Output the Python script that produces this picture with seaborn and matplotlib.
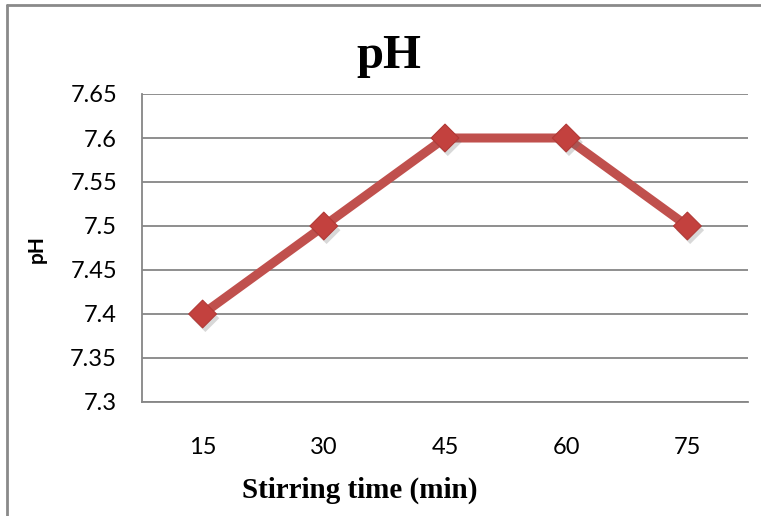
import matplotlib
matplotlib.use("Agg")
import matplotlib.pyplot as plt
import matplotlib.patheffects as pe
from matplotlib.lines import Line2D
import pandas as pd
import seaborn as sns

# Data
stirring_time = ["15", "30", "45", "60", "75"]
ph_values = [7.4, 7.5, 7.6, 7.6, 7.5]
y_ticks = [7.3, 7.35, 7.4, 7.45, 7.5, 7.55, 7.6, 7.65]
y_tick_labels = ["7.3", "7.35", "7.4", "7.45", "7.5", "7.55", "7.6", "7.65"]

df = pd.DataFrame({"time": stirring_time, "ph": ph_values})

sns.set_theme(style="white")
W, H = 761, 516
fig = plt.figure(figsize=(W / 100, H / 100), dpi=100)
ax = fig.add_axes([142 / W, 1 - 402 / H, (748 - 142) / W, (402 - 94) / H])

red = "#C0504D"
# connecting line
sns.lineplot(data=df, x="time", y="ph", ax=ax, color=red, linewidth=6.5,
             sort=False, zorder=3)
# diamond markers with a soft drop shadow
sns.scatterplot(data=df, x="time", y="ph", ax=ax, marker="D", s=200,
                color="#C3413E", edgecolor="#B13936", linewidth=0.8, zorder=4,
                path_effects=[pe.SimplePatchShadow(offset=(2, -3), shadow_rgbFace="0.4", alpha=0.25),
                              pe.Normal()])

ax.set_xlim(-0.5, len(stirring_time) - 0.5)
ax.set_ylim(7.3, 7.65)
ax.set_yticks(y_ticks)
ax.set_yticklabels(y_tick_labels)
ax.grid(axis="y", color="#868686", linewidth=1.3)
ax.grid(axis="x", visible=False)
ax.set_axisbelow(True)
for side in ("top", "right"):
    ax.spines[side].set_visible(False)
for side in ("left", "bottom"):
    ax.spines[side].set_color("#868686")
    ax.spines[side].set_linewidth(1.3)
ax.tick_params(axis="both", length=0, labelsize=17, colors="black", labelcolor="black")
ax.tick_params(axis="y", pad=18)
ax.tick_params(axis="x", pad=25)
for lab in ax.get_xticklabels() + ax.get_yticklabels():
    lab.set_fontfamily("Lato")
    lab.set_color("black")

ax.set_xlabel("")
ax.set_ylabel("")
fig.text(37 / W, 1 - 249 / H, "pH", rotation=90, ha="center", va="center",
         fontsize=15, fontweight="bold", family="Lato", color="black")
fig.text(360 / W, 1 - 498 / H, "Stirring time (min)", ha="center", va="baseline",
         fontsize=21, fontweight="bold", family="Liberation Serif", color="black")
fig.text(389 / W, 1 - 68 / H, "pH", ha="center", va="baseline",
         fontsize=35, fontweight="bold", family="Liberation Serif", color="black")

# Outer chart frame
fig.add_artist(Line2D([7 / W, 7 / W], [0, 1 - 5 / H], transform=fig.transFigure,
                      color="#8a8a8a", linewidth=2))
fig.add_artist(Line2D([7 / W, 1], [1 - 5 / H, 1 - 5 / H], transform=fig.transFigure,
                      color="#8a8a8a", linewidth=2))

fig.savefig("out.png", dpi=100)
